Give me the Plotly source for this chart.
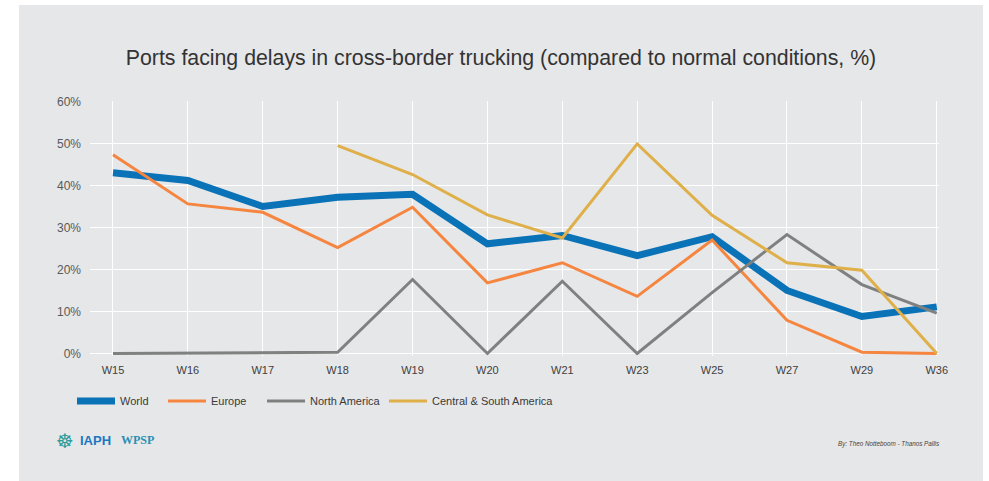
import plotly.graph_objects as go

weeks = ["W15", "W16", "W17", "W18", "W19", "W20", "W21", "W23", "W25", "W27", "W29", "W36"]
world = [43.0, 41.2, 35.0, 37.2, 37.9, 26.1, 28.1, 23.3, 27.8, 15.0, 8.8, 11.1]
europe = [47.3, 35.6, 33.6, 25.2, 34.8, 16.8, 21.6, 13.6, 27.0, 7.9, 0.3, 0.0]
north_america = [0.0, 0.1, 0.2, 0.3, 17.6, 0.0, 17.2, 0.0, 14.5, 28.3, 16.4, 9.6]
central_south = [None, None, None, 49.5, 42.6, 33.0, 27.5, 49.9, 32.9, 21.6, 19.8, 0.0]
y_ticks = [0, 10, 20, 30, 40, 50, 60]
y_tick_labels = ["0%", "10%", "20%", "30%", "40%", "50%", "60%"]

series = [
    ("World", world, "#0a72b6", 7, "legend"),
    ("Europe", europe, "#f5853f", 3, "legend2"),
    ("North America", north_america, "#7f8181", 3, "legend3"),
    ("Central & South America", central_south, "#dfb049", 3, "legend4"),
]

BG = "#e6e7e9"
fig = go.Figure()
x_idx = list(range(len(weeks)))
for name, vals, color, w, lg in series:
    fig.add_trace(go.Scatter(
        x=x_idx, y=vals, name=name, mode="lines",
        line=dict(color=color, width=w), legend=lg,
        connectgaps=False, hoverinfo="x+y+name",
    ))

L, R, T, B = 90, 50, 101, 125
W, H = 989, 481
pw = W - L - R
ph = H - T - B
ymin, ymax = -0.6, 60.1

def px_to_x(px):
    return (px - L) / pw

def py_to_y(py):
    return (H - B - py) / ph

legend_common = dict(orientation="h", yanchor="middle", xanchor="left",
                     bgcolor="rgba(0,0,0,0)", font=dict(size=11, color="#3a3a3a",
                     family="Liberation Sans"), itemwidth=38)
legend_x = [72, 163, 262, 384]
layout_legends = {}
for key, lx in zip(["legend", "legend2", "legend3", "legend4"], legend_x):
    layout_legends[key] = dict(legend_common, x=px_to_x(lx), y=py_to_y(401))

fig.update_layout(
    width=W, height=H,
    margin=dict(l=L, r=R, t=T, b=B, pad=0),
    paper_bgcolor="white",
    plot_bgcolor=BG,
    showlegend=True,
    title=dict(text="Ports facing delays in cross-border trucking (compared to normal conditions, %)",
               x=501 / W, xanchor="center", xref="container",
               y=1 - 58 / H, yanchor="middle", yref="container",
               font=dict(size=21.3, color="#333333", family="Liberation Sans")),
    xaxis=dict(range=[-0.307, 11.03], tickmode="array", tickvals=x_idx, ticktext=weeks,
               showgrid=True, gridcolor="white", gridwidth=1, zeroline=False,
               showline=False, ticks="", ticklabelstandoff=6,
               tickfont=dict(size=11, color="#404040", family="Liberation Sans")),
    yaxis=dict(range=[ymin, ymax], tickmode="array", tickvals=y_ticks, ticktext=y_tick_labels,
               showgrid=True, gridcolor="white", gridwidth=1,
               zeroline=False, showline=False, ticks="", ticklabelstandoff=8,
               tickfont=dict(size=12, color="#595959", family="Liberation Sans")),
    shapes=[dict(type="rect", xref="paper", yref="paper", layer="below",
                 x0=px_to_x(19), x1=px_to_x(983), y0=py_to_y(481), y1=py_to_y(5),
                 fillcolor=BG, line=dict(width=0))],
    annotations=[
        dict(text="☸", xref="paper", yref="paper", x=px_to_x(65), y=py_to_y(441),
             showarrow=False, font=dict(size=20, color="#2b9c9a", family="DejaVu Sans"),
             xanchor="center", yanchor="middle"),
        dict(text="<b>IAPH</b>", xref="paper", yref="paper", x=px_to_x(78), y=py_to_y(440),
             showarrow=False, font=dict(size=13, color="#1a78c2", family="Liberation Sans"),
             xanchor="left", yanchor="middle"),
        dict(text="<b>WPSP</b>", xref="paper", yref="paper", x=px_to_x(119), y=py_to_y(440),
             showarrow=False, font=dict(size=12, color="#2a8fb3", family="Liberation Serif"),
             xanchor="left", yanchor="middle"),
        dict(text="<i>By: Theo Notteboom - Thanos Pallis</i>", xref="paper", yref="paper",
             x=px_to_x(836), y=py_to_y(444), showarrow=False,
             font=dict(size=6.3, color="#444444", family="Liberation Sans"),
             xanchor="left", yanchor="middle"),
    ],
    **layout_legends,
)

fig.write_html("out.html", config={"displayModeBar": False},
               post_script="document.body.style.margin='0';document.body.style.overflow='hidden';")
